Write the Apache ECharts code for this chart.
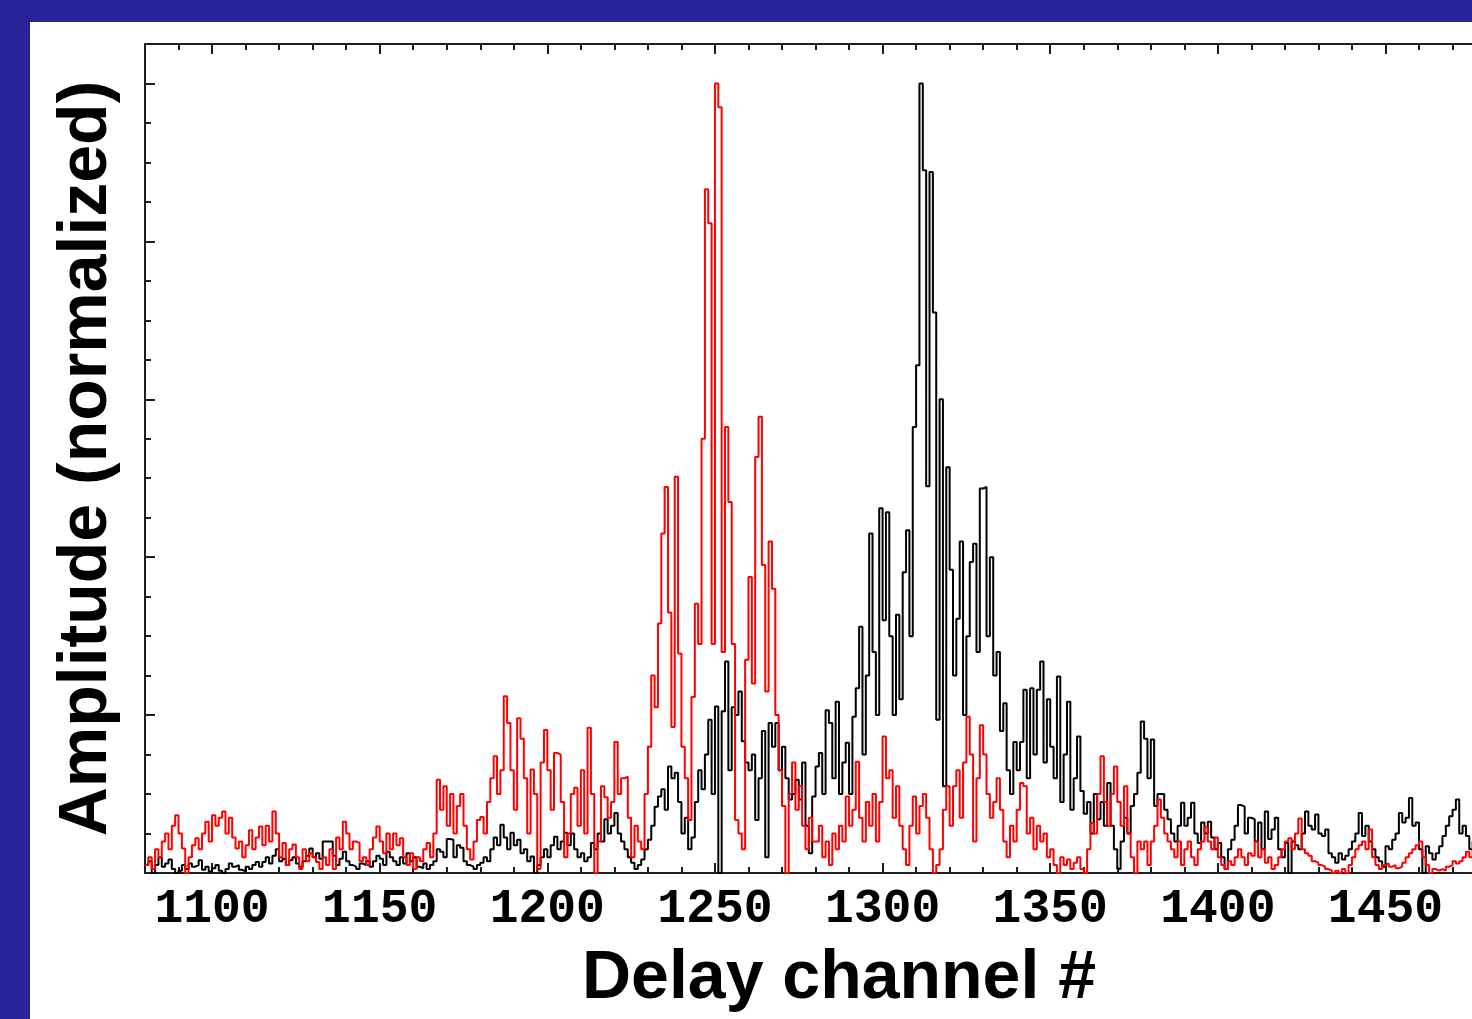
<!DOCTYPE html>
<html>
<head>
<meta charset="utf-8">
<title>Delay channel amplitude</title>
<script src="https://cdn.jsdelivr.net/npm/echarts@6.0.0/dist/echarts.min.js"></script>
<style>
  html, body { margin: 0; padding: 0; width: 1472px; height: 1019px; overflow: hidden; background: #282498; }
  #container { position: absolute; left: 30px; top: 22px; width: 1442px; height: 997px; background: #ffffff; }
</style>
</head>
<body>
<div id="container"></div>
<script>
var dom = document.getElementById("container");
var myChart = echarts.init(dom);

// channel of the first value in each series, one value per channel
var firstChannel = 1080;
var xMin = 1080;
var xMax = 1494;
var xLabelValues = [1100, 1150, 1200, 1250, 1300, 1350, 1400, 1450];
var yMajorValues = [0, 0.2, 0.4, 0.6, 0.8, 1.0];

// red trace, channels 1080..1480
var redAmp = [
  0.01, 0.02, 0.005, 0.03, 0.02, 0.04, 0.05, 0.03, 0.06, 0.073,
  0.05, 0.031, 0.0, 0.02, 0.035, 0.044, 0.03, 0.05, 0.065, 0.04,
  0.073, 0.06, 0.07, 0.078, 0.05, 0.07, 0.045, 0.031, 0.04, 0.02,
  0.035, 0.054, 0.03, 0.045, 0.059, 0.035, 0.06, 0.04, 0.078, 0.05,
  0.02, 0.038, 0.01, 0.03, 0.036, 0.02, 0.005, 0.03, 0.015, 0.025,
  0.02, 0.014, 0.005, 0.02, 0.01, 0.03, 0.005, 0.045, 0.03, 0.065,
  0.05, 0.03, 0.04, 0.038, 0.015, 0.02, 0.01, 0.03, 0.045, 0.059,
  0.04, 0.025, 0.05, 0.03, 0.05, 0.035, 0.044, 0.02, 0.01, 0.025,
  0.005, 0.02, 0.015, 0.03, 0.038, 0.02, 0.05, 0.118, 0.08, 0.11,
  0.06, 0.1, 0.05, 0.085, 0.1, 0.06, 0.03, 0.017, 0.04, 0.067,
  0.071, 0.05, 0.09, 0.12, 0.148, 0.1, 0.13, 0.224, 0.19, 0.13,
  0.08, 0.196, 0.17, 0.12, 0.05, 0.131, 0.1, 0.005, 0.14, 0.181,
  0.13, 0.08, 0.152, 0.15, 0.09, 0.02, 0.05, 0.1, 0.108, 0.06,
  0.13, 0.05, 0.184, 0.1, 0.0, 0.04, 0.11, 0.096, 0.07, 0.09,
  0.166, 0.1, 0.12, 0.122, 0.07, 0.02, 0.06, 0.04, 0.03, 0.1,
  0.16, 0.25, 0.21, 0.316, 0.43, 0.489, 0.33, 0.185, 0.502, 0.278,
  0.16, 0.12, 0.067, 0.223, 0.341, 0.29, 0.55, 0.866, 0.823, 0.29,
  1.0, 0.97, 0.28, 0.565, 0.47, 0.29, 0.067, 0.05, 0.03, 0.27,
  0.375, 0.24, 0.527, 0.578, 0.39, 0.23, 0.42, 0.36, 0.2, 0.13,
  0.085, 0.0, 0.1, 0.14, 0.08, 0.11, 0.06, 0.03, 0.07, 0.04,
  0.04, 0.06, 0.02, 0.04, 0.01, 0.05, 0.03, 0.06, 0.04, 0.097,
  0.06, 0.08, 0.141, 0.07, 0.04, 0.09, 0.06, 0.1, 0.04, 0.09,
  0.173, 0.12, 0.13, 0.07, 0.11, 0.06, 0.03, 0.01, 0.06, 0.097,
  0.05, 0.085, 0.1, 0.07, 0.03, 0.0, 0.01, 0.03, 0.08, 0.11,
  0.06, 0.11, 0.13, 0.07, 0.14, 0.198, 0.15, 0.04, 0.12, 0.187,
  0.15, 0.1, 0.07, 0.09, 0.12, 0.08, 0.04, 0.02, 0.06, 0.04,
  0.08, 0.114, 0.11, 0.05, 0.07, 0.03, 0.06, 0.04, 0.05, 0.02,
  0.03, 0.01, 0.0, 0.02, 0.01, 0.017, 0.005, 0.013, 0.02, 0.005,
  0.0, 0.03, 0.063, 0.05, 0.1, 0.148, 0.09, 0.06, 0.1, 0.135,
  0.09, 0.06, 0.11, 0.05, 0.02, 0.0, 0.04, 0.03, 0.04, 0.01,
  0.04, 0.06, 0.093, 0.07, 0.05, 0.04, 0.03, 0.02, 0.04, 0.01,
  0.03, 0.04, 0.02, 0.01, 0.03, 0.04, 0.058, 0.04, 0.03, 0.045,
  0.02, 0.01, 0.005, 0.015, 0.01, 0.02, 0.03, 0.02, 0.01, 0.025,
  0.022, 0.04, 0.02, 0.03, 0.013, 0.02, 0.005, 0.01, 0.02, 0.03,
  0.04, 0.044, 0.03, 0.05, 0.069, 0.03, 0.025, 0.022, 0.015, 0.013,
  0.01, 0.008, 0.005, 0.003, 0.0, 0.003, 0.0, 0.005, 0.0, 0.01,
  0.02, 0.03, 0.035, 0.04, 0.03, 0.055, 0.02, 0.01, 0.005, 0.01,
  0.012, 0.008, 0.01, 0.006, 0.008, 0.013, 0.02, 0.025, 0.03, 0.035,
  0.04, 0.02, 0.01, 0.0, 0.005, 0.003, 0.005, 0.003, 0.008, 0.01,
  0.015, 0.012, 0.015, 0.02, 0.027, 0.02, 0.03, 0.02, 0.025, 0.02,
  0.03
];

// black trace, channels 1080..1480
var blackAmp = [
  0.01, 0.015, 0.0, 0.01, 0.02, 0.008, 0.012, 0.017, 0.005, 0.0,
  0.003, 0.01, 0.005, 0.012, 0.008, 0.01, 0.016, 0.004, 0.008, 0.002,
  0.006, 0.01, 0.003, 0.0, 0.005, 0.012, 0.008, 0.01, 0.004, 0.002,
  0.008, 0.005, 0.01, 0.014, 0.008, 0.014, 0.02, 0.012, 0.022, 0.03,
  0.015, 0.018, 0.01, 0.016, 0.02, 0.012, 0.008, 0.015, 0.022, 0.031,
  0.02, 0.025, 0.018, 0.04, 0.04, 0.04, 0.022, 0.01, 0.018, 0.027,
  0.015, 0.01, 0.008, 0.005, 0.012, 0.01, 0.015, 0.008, 0.015, 0.022,
  0.018, 0.01, 0.027, 0.02, 0.015, 0.01, 0.02, 0.012, 0.025, 0.015,
  0.02, 0.008, 0.006, 0.012, 0.005, 0.01, 0.015, 0.03, 0.027, 0.02,
  0.043, 0.042, 0.02, 0.035, 0.032, 0.015, 0.01, 0.008, 0.005, 0.01,
  0.013, 0.02, 0.015, 0.03, 0.045, 0.035, 0.061, 0.045, 0.03, 0.051,
  0.035, 0.042, 0.025, 0.03, 0.015, 0.021, 0.0, 0.01, 0.02, 0.03,
  0.02, 0.035, 0.046, 0.03, 0.04, 0.051, 0.035, 0.05, 0.03, 0.02,
  0.025, 0.015, 0.02, 0.038, 0.03, 0.05, 0.04, 0.068, 0.05, 0.06,
  0.076, 0.05, 0.04, 0.03, 0.02, 0.013, 0.005, 0.01, 0.017, 0.03,
  0.042, 0.06, 0.084, 0.097, 0.106, 0.08, 0.135, 0.12, 0.127, 0.09,
  0.05, 0.07, 0.03, 0.045, 0.09, 0.13, 0.106, 0.15, 0.194, 0.1,
  0.211, 0.0, 0.205, 0.268, 0.13, 0.21, 0.2, 0.23, 0.167, 0.14,
  0.13, 0.15, 0.067, 0.12, 0.18, 0.02, 0.19, 0.16, 0.19, 0.13,
  0.16, 0.12, 0.093, 0.1, 0.118, 0.093, 0.14, 0.06, 0.025, 0.097,
  0.135, 0.152, 0.1, 0.206, 0.19, 0.12, 0.217, 0.1, 0.14, 0.165,
  0.1, 0.198, 0.234, 0.312, 0.15, 0.25, 0.43, 0.28, 0.2, 0.462,
  0.32, 0.457, 0.3, 0.2, 0.327, 0.22, 0.381, 0.434, 0.3, 0.565,
  0.643, 1.0, 0.89, 0.49, 0.888, 0.71, 0.194, 0.6, 0.11, 0.514,
  0.384, 0.25, 0.322, 0.42, 0.2, 0.3, 0.394, 0.417, 0.28, 0.487,
  0.489, 0.3, 0.4, 0.25, 0.28, 0.18, 0.215, 0.13, 0.1, 0.166,
  0.13, 0.166, 0.232, 0.12, 0.234, 0.15, 0.232, 0.268, 0.14, 0.22,
  0.16, 0.12, 0.249, 0.09, 0.15, 0.217, 0.08, 0.12, 0.173, 0.104,
  0.075, 0.09, 0.05, 0.1, 0.068, 0.09, 0.06, 0.114, 0.06, 0.03,
  0.005, 0.04, 0.07, 0.05, 0.085, 0.1, 0.127, 0.192, 0.17, 0.12,
  0.169, 0.085, 0.1, 0.1, 0.08, 0.068, 0.05, 0.04, 0.06, 0.089,
  0.06, 0.07, 0.089, 0.05, 0.038, 0.064, 0.05, 0.065, 0.045, 0.03,
  0.038, 0.02, 0.005, 0.03, 0.042, 0.06, 0.086, 0.084, 0.05, 0.07,
  0.068, 0.04, 0.064, 0.03, 0.078, 0.043, 0.055, 0.07, 0.03, 0.02,
  0.038, 0.0, 0.04, 0.035, 0.03, 0.05, 0.078, 0.06, 0.055, 0.074,
  0.05, 0.047, 0.055, 0.025, 0.02, 0.013, 0.025, 0.017, 0.022, 0.03,
  0.04, 0.05, 0.076, 0.047, 0.06, 0.04, 0.03, 0.02, 0.015, 0.008,
  0.034, 0.03, 0.042, 0.05, 0.076, 0.064, 0.07, 0.095, 0.06, 0.064,
  0.03, 0.0, 0.034, 0.025, 0.017, 0.025, 0.034, 0.047, 0.06, 0.072,
  0.08, 0.093, 0.05, 0.06, 0.047, 0.03, 0.04, 0.03, 0.05, 0.04,
  0.03
];

var axisColor = "#1e1e1e";
var option;

initChart();

function toPoints(values) {
  return values.map((v, i) => [firstChannel + i, v]);
}

function xAxisDef(position, major, withLabels) {
  var axis = {
    type: "value",
    position: position,
    min: xMin,
    max: xMax,
    interval: 10,
    axisLine: { show: !major, onZero: false, lineStyle: { color: axisColor, width: 2 } },
    axisTick: { show: true, inside: true, length: major ? 10 : 6, lineStyle: { color: axisColor, width: 2 } },
    axisLabel: { show: false },
    splitLine: { show: false },
  };
  if (major) {
    axis.axisTick.customValues = xLabelValues;
  }
  if (withLabels) {
    axis.axisLabel = {
      show: true,
      customValues: xLabelValues,
      formatter: function (v) {
        return String(v);
      },
      margin: 13,
      color: "#000",
      fontFamily: "Liberation Mono",
      fontWeight: "bold",
      fontSize: 48,
    };
    axis.name = "Delay channel #";
    axis.nameLocation = "middle";
    axis.nameGap = 72;
    axis.nameTextStyle = {
      color: "#000",
      fontFamily: "Liberation Sans",
      fontWeight: "bold",
      fontSize: 68,
    };
  }
  return axis;
}

function yAxisDef(major, withName) {
  var axis = {
    type: "value",
    position: "left",
    min: 0,
    max: 1.05,
    interval: 0.05,
    axisLine: { show: !major, onZero: false, lineStyle: { color: axisColor, width: 2 } },
    axisTick: { show: true, inside: true, length: major ? 10 : 6, lineStyle: { color: axisColor, width: 2 } },
    axisLabel: { show: false },
    splitLine: { show: false },
  };
  if (major) {
    axis.axisTick.customValues = yMajorValues;
  }
  if (withName) {
    axis.name = "Amplitude (normalized)";
    axis.nameLocation = "middle";
    axis.nameGap = 24;
    axis.nameTextStyle = {
      color: "#000",
      fontFamily: "Liberation Sans",
      fontWeight: "bold",
      fontSize: 68,
    };
  }
  return axis;
}

function initChart() {
  option = {
    animation: false,
    backgroundColor: "#ffffff",
    grid: {
      left: 115,
      top: 22,
      width: 1388,
      bottom: 146,
      outerBoundsMode: "none",
      containLabel: false,
    },
    xAxis: [
      xAxisDef("bottom", false, true),
      xAxisDef("bottom", true, false),
      xAxisDef("top", false, false),
      xAxisDef("top", true, false),
    ],
    yAxis: [yAxisDef(false, true), yAxisDef(true, false)],
    series: [
      {
        name: "black",
        type: "line",
        step: "end",
        showSymbol: false,
        silent: true,
        xAxisIndex: 0,
        yAxisIndex: 0,
        lineStyle: { color: "#000000", width: 2 },
        data: toPoints(blackAmp),
      },
      {
        name: "red",
        type: "line",
        step: "end",
        showSymbol: false,
        silent: true,
        xAxisIndex: 0,
        yAxisIndex: 0,
        lineStyle: { color: "#ff0000", width: 2 },
        data: toPoints(redAmp),
      },
    ],
  };

  if (option && typeof option === "object") {
    myChart.setOption(option);
  }
}
</script>
</body>
</html>
